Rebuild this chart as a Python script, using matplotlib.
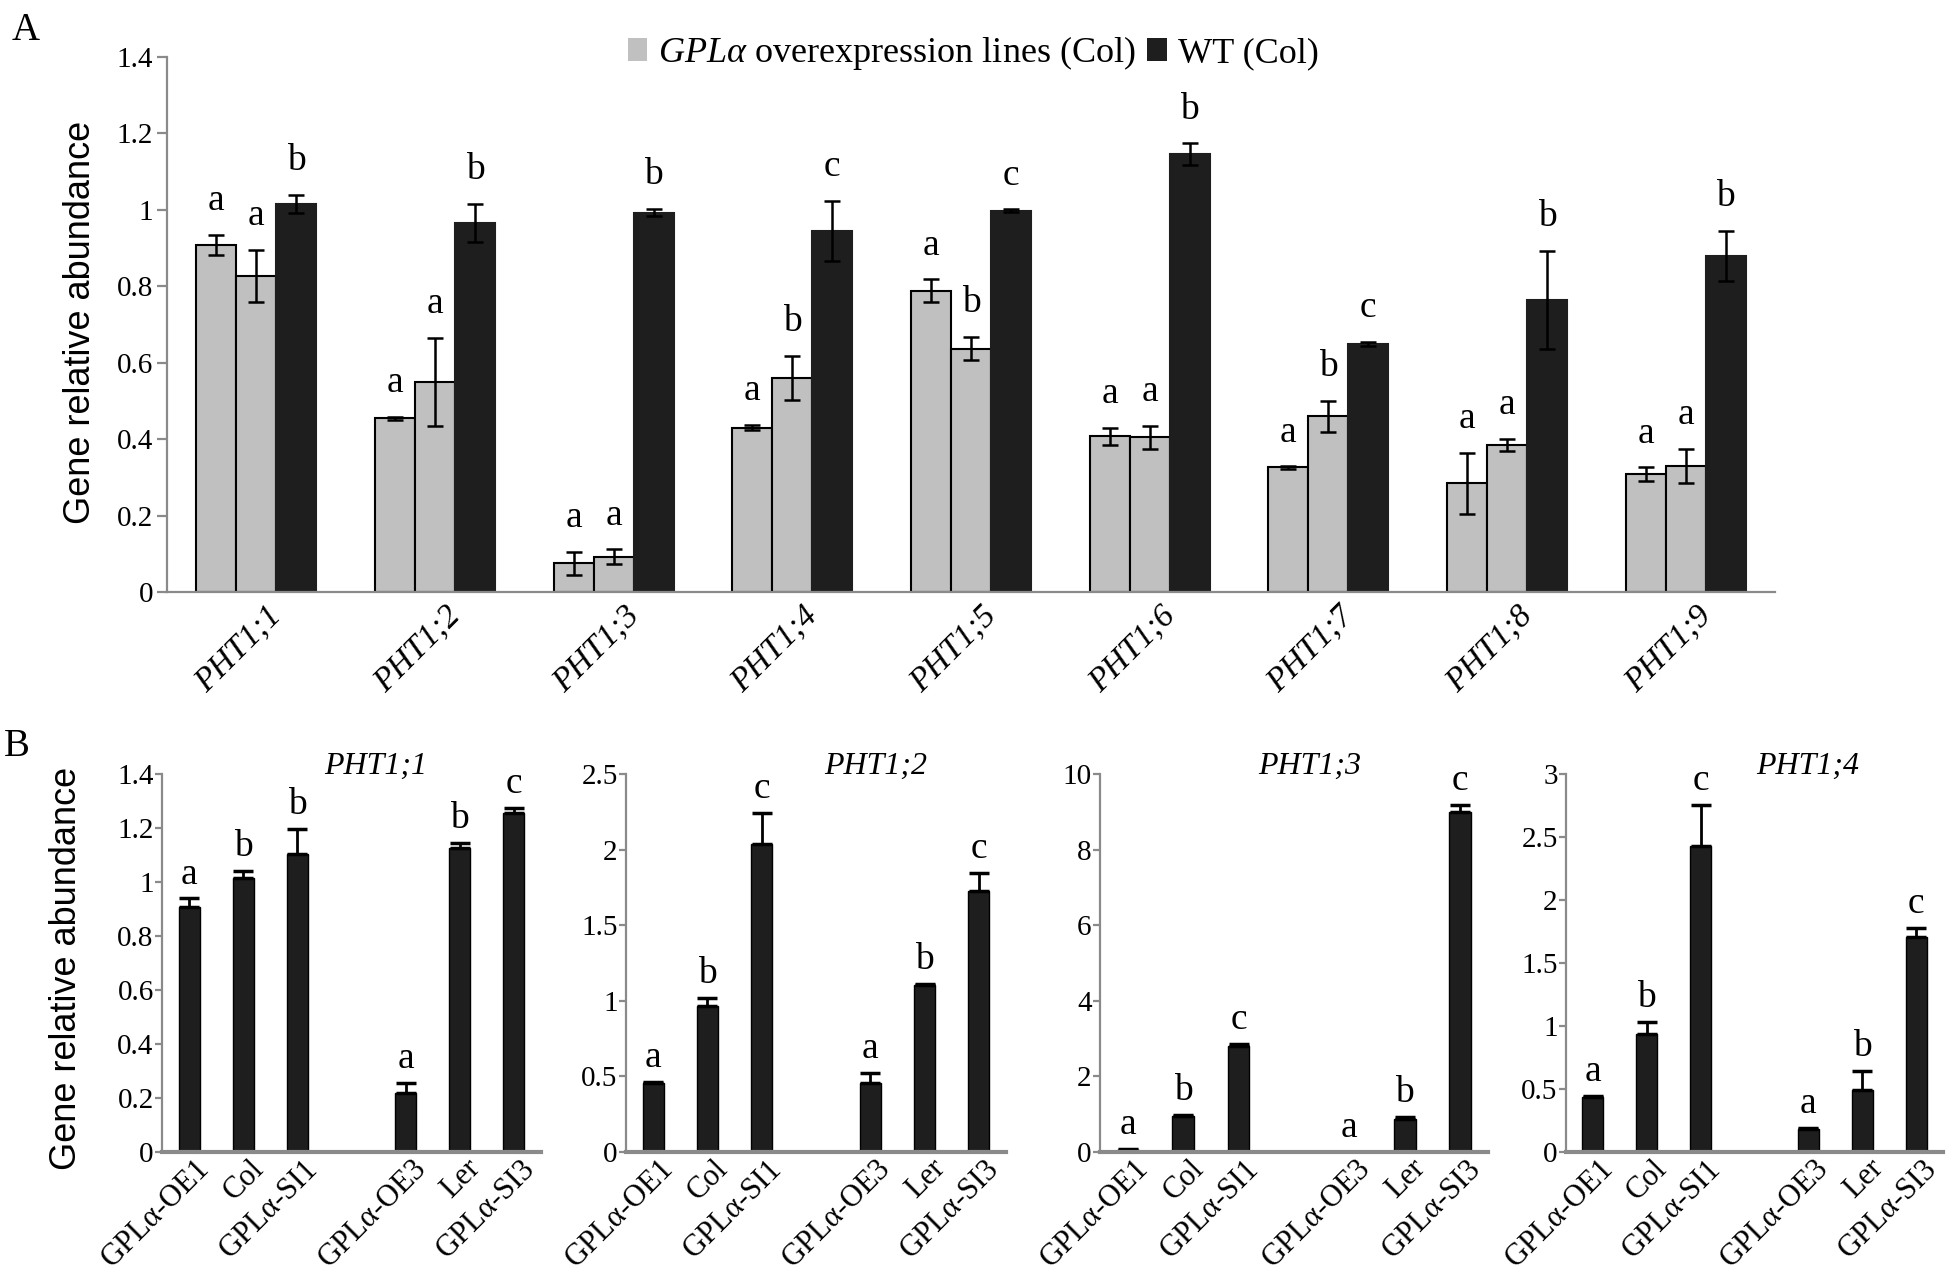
import numpy as np
import matplotlib.pyplot as plt
from matplotlib.patches import Patch
from matplotlib.ticker import FuncFormatter
from matplotlib.transforms import ScaledTranslation

# =====================================================
# =========        Fonts and styles           =========
# =====================================================

plt.rcParams["font.family"] = ["Liberation Serif", "DejaVu Serif"]
plt.rcParams["mathtext.fontset"] = "custom"
plt.rcParams["mathtext.rm"] = "Liberation Serif"
plt.rcParams["mathtext.it"] = "Liberation Serif:italic"

GRAY = "#c0c0c0"
DARK = "#1e1e1e"
AXIS_GRAY = "#8a8a8a"

# =====================================================
# =========        Panel A data               =========
# =====================================================

genes = ["PHT1;1", "PHT1;2", "PHT1;3", "PHT1;4", "PHT1;5",
         "PHT1;6", "PHT1;7", "PHT1;8", "PHT1;9"]

oe_a_mean = [0.909, 0.455, 0.075, 0.430, 0.788, 0.407, 0.326, 0.285, 0.308]
oe_a_err = [0.026, 0.004, 0.030, 0.007, 0.030, 0.022, 0.003, 0.080, 0.018]
oe_a_letters = ["a", "a", "a", "a", "a", "a", "a", "a", "a"]

oe_b_mean = [0.828, 0.550, 0.092, 0.560, 0.637, 0.405, 0.460, 0.385, 0.329]
oe_b_err = [0.068, 0.115, 0.020, 0.058, 0.030, 0.030, 0.040, 0.015, 0.045]
oe_b_letters = ["a", "a", "a", "b", "b", "a", "b", "a", "a"]

wt_mean = [1.016, 0.965, 0.993, 0.945, 0.998, 1.146, 0.650, 0.765, 0.880]
wt_err = [0.024, 0.050, 0.010, 0.078, 0.003, 0.028, 0.005, 0.128, 0.065]
wt_letters = ["b", "b", "b", "c", "c", "b", "c", "b", "b"]

# =====================================================
# =========        Panel B data               =========
# =====================================================

lines_b = ["GPLα-OE1", "Col", "GPLα-SI1", "GPLα-OE3", "Ler", "GPLα-SI3"]
slots_b = [0, 1, 2, 4, 5, 6]

pht11_mean = [0.909, 1.015, 1.104, 0.217, 1.125, 1.256]
pht11_err = [0.030, 0.027, 0.092, 0.040, 0.020, 0.017]
pht11_letters = ["a", "b", "b", "a", "b", "c"]

pht12_mean = [0.455, 0.963, 2.040, 0.455, 1.104, 1.728]
pht12_err = [0.010, 0.056, 0.200, 0.068, 0.010, 0.120]
pht12_letters = ["a", "b", "c", "a", "b", "c"]

pht13_mean = [0.06, 0.95, 2.80, 0.0, 0.876, 9.00]
pht13_err = [0.03, 0.03, 0.05, 0.0, 0.04, 0.18]
pht13_letters = ["a", "b", "c", "a", "b", "c"]

pht14_mean = [0.433, 0.940, 2.427, 0.181, 0.490, 1.708]
pht14_err = [0.010, 0.090, 0.330, 0.010, 0.150, 0.070]
pht14_letters = ["a", "b", "c", "a", "b", "c"]

# =====================================================
# =========           Figure                  =========
# =====================================================

W, H = 1946, 1284
fig = plt.figure(figsize=(W / 100, H / 100), dpi=100)


def add_axes_px(left, top, right, bottom):
    return fig.add_axes([left / W, 1 - bottom / H, (right - left) / W, (bottom - top) / H])


def style_axes(ax, xlw, ticklen, tickpad):
    for side in ("top", "right"):
        ax.spines[side].set_visible(False)
    ax.spines["left"].set_color(AXIS_GRAY)
    ax.spines["left"].set_linewidth(1.6)
    ax.spines["bottom"].set_color(AXIS_GRAY)
    ax.spines["bottom"].set_linewidth(xlw)
    ax.tick_params(axis="y", direction="out", color=AXIS_GRAY, width=1.6,
                   length=ticklen, pad=tickpad, labelsize=21)
    ax.tick_params(axis="x", length=0)
    ax.yaxis.set_major_formatter(FuncFormatter(lambda v, _: f"{v:g}"))


def shift_xlabels(ax, dx_px, dy_px):
    offset = ScaledTranslation(dx_px / 100, dy_px / 100, fig.dpi_scale_trans)
    for lab in ax.get_xticklabels():
        lab.set_transform(lab.get_transform() + offset)


# ---------------- Panel A ----------------
ax = add_axes_px(167, 57, 1775, 592)
x = np.arange(len(genes))
w = 0.224
err_style = dict(ecolor="black", elinewidth=1.8, capsize=6, capthick=1.8)

series = [
    (x - w, oe_a_mean, oe_a_err, oe_a_letters, GRAY, "black"),
    (x, oe_b_mean, oe_b_err, oe_b_letters, GRAY, "black"),
    (x + w, wt_mean, wt_err, wt_letters, DARK, DARK),
]
for xs, mean, err, letters, fc, ec in series:
    ax.bar(xs, mean, w, yerr=err, color=fc, edgecolor=ec, linewidth=1.5,
           error_kw=err_style)
    for xi, m, e, lt in zip(xs, mean, err, letters):
        ax.annotate(lt, (xi, m + e), xytext=(0, 12), textcoords="offset points",
                    ha="center", va="bottom", fontsize=27)

ax.set_xlim(-0.5, len(genes) - 0.5)
ax.set_ylim(0, 1.4)
ax.set_yticks(np.arange(0, 1.41, 0.2))
ax.set_xticks(x)
ax.set_xticklabels(genes, rotation=45, ha="right", rotation_mode="anchor",
                   fontsize=24, style="italic")
style_axes(ax, 1.6, 7, 3)
shift_xlabels(ax, 10, -4)

fig.text(81 / W, 1 - 322 / H, "Gene relative abundance", rotation=90,
         ha="center", va="center", fontsize=26, family="Liberation Sans")

handles = [Patch(facecolor=GRAY, edgecolor="none"), Patch(facecolor=DARK, edgecolor="none")]
fig.legend(handles, [r"$GPL\alpha$ overexpression lines (Col)", "WT (Col)"],
           loc="center", bbox_to_anchor=(973 / W, 1 - 53 / H), ncol=2,
           frameon=False, fontsize=26, handlelength=0.55, handleheight=0.6,
           handletextpad=0.3, columnspacing=0.3, borderpad=0, borderaxespad=0)

fig.text(12 / W, 1 - 30 / H, "A", fontsize=28, ha="left", va="center")
fig.text(4 / W, 1 - 746 / H, "B", fontsize=28, ha="left", va="center")

# ---------------- Panel B ----------------
panels_b = [
    ("PHT1;1", pht11_mean, pht11_err, pht11_letters, 1.4, 0.2, (162, 541), 0.565),
    ("PHT1;2", pht12_mean, pht12_err, pht12_letters, 2.5, 0.5, (626, 1006), 0.658),
    ("PHT1;3", pht13_mean, pht13_err, pht13_letters, 10, 2, (1100, 1488), 0.54),
    ("PHT1;4", pht14_mean, pht14_err, pht14_letters, 3, 0.5, (1566, 1943), 0.64),
]
for title, mean, err, letters, ymax, ystep, (left, right), tx in panels_b:
    axb = add_axes_px(left, 774, right, 1152)
    lower = np.zeros(len(err))
    axb.bar(slots_b, mean, 0.39, yerr=[lower, err], color=DARK, edgecolor="black",
            linewidth=1.0, error_kw=dict(ecolor="black", elinewidth=2.0,
                                         capsize=7, capthick=2.5))
    for xi, m, e, lt in zip(slots_b, mean, err, letters):
        axb.annotate(lt, (xi, m + e), xytext=(0, 5), textcoords="offset points",
                     ha="center", va="bottom", fontsize=27)
    axb.set_xlim(-0.5, 6.5)
    axb.set_ylim(0, ymax)
    axb.set_yticks(np.arange(0, ymax + ystep / 2, ystep))
    axb.set_xticks(slots_b)
    axb.set_xticklabels(lines_b, rotation=45, ha="right", rotation_mode="anchor",
                        fontsize=22)
    style_axes(axb, 3.0, 5, 1)
    shift_xlabels(axb, 6, 3)
    axb.text(tx, 1.02, title, transform=axb.transAxes, ha="center", va="center",
             fontsize=23, style="italic")

fig.text(67 / W, 1 - 968 / H, "Gene relative abundance", rotation=90,
         ha="center", va="center", fontsize=26, family="Liberation Sans")

fig.savefig("out.png", dpi=100)
